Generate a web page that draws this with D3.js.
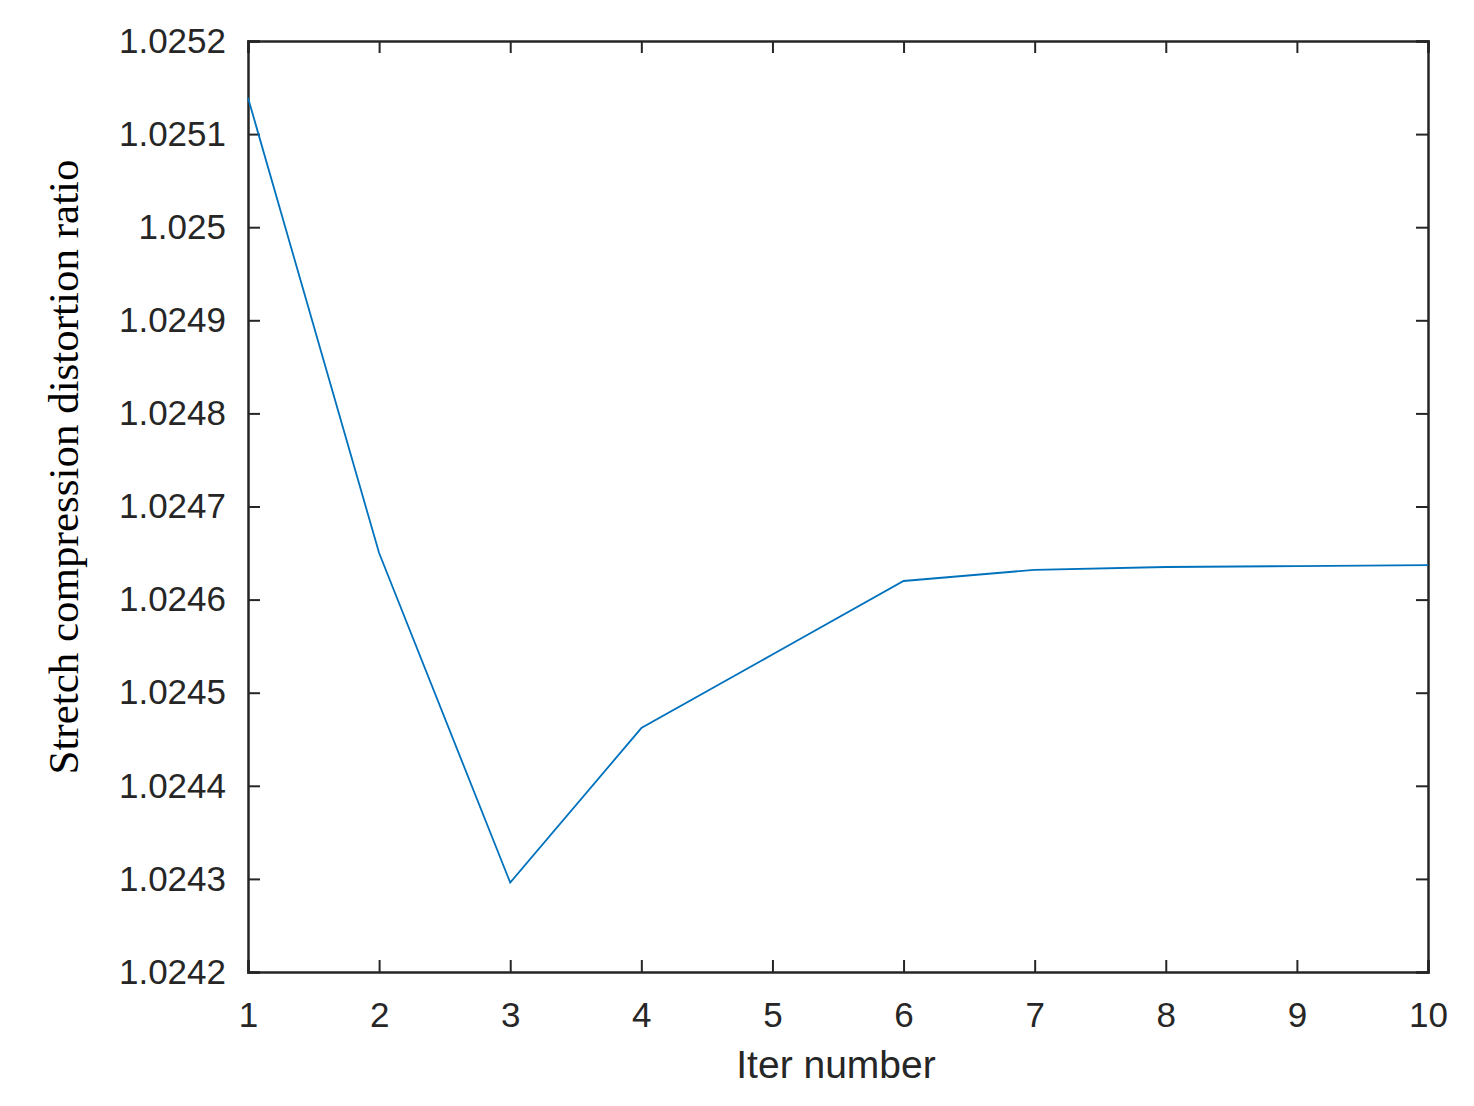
<!DOCTYPE html>
<html>
<head>
<meta charset="utf-8">
<script src="https://cdn.jsdelivr.net/npm/d3@7"></script>
<style>
  body { margin: 0; background: #fff; }
  .tick text { font-family: 'Liberation Sans', Arial, sans-serif; }
</style>
</head>
<body>
<svg id="chart"></svg>
<script>
// Data
var iterations = [1, 2, 3, 4, 5, 6, 7, 8, 9, 10];
var ratios = [1.025139, 1.02465, 1.024296, 1.024462, 1.024541, 1.02462, 1.024632, 1.024635, 1.024636, 1.024637];
var yTicks = [1.0242, 1.0243, 1.0244, 1.0245, 1.0246, 1.0247, 1.0248, 1.0249, 1.025, 1.0251, 1.0252];

var canvasWidth = 1474;
var canvasHeight = 1106;

var margin = {
  top: 41,
  right: 46,
  bottom: 134,
  left: 248
};

var plotWidth = canvasWidth - margin.left - margin.right;
var plotHeight = canvasHeight - margin.top - margin.bottom;

var svg = d3.select('#chart')
  .attr('width', canvasWidth)
  .attr('height', canvasHeight);

var g = svg.append('g')
  .attr('transform', 'translate(' + margin.left + ',' + margin.top + ')');

var xScale = d3.scaleLinear()
  .domain([1, 10])
  .range([0, plotWidth]);

var yScale = d3.scaleLinear()
  .domain([1.0242, 1.0252])
  .range([plotHeight, 0]);

var tickLen = 12;

// Bottom axis
var bottomAxis = d3.axisBottom(xScale)
  .tickValues(iterations)
  .tickSize(-tickLen)
  .tickPadding(30)
  .tickFormat(d3.format('d'));

var xAxisG = g.append('g')
  .attr('class', 'x-axis')
  .attr('transform', 'translate(0,' + plotHeight + ')')
  .call(bottomAxis);

// Left axis
var leftAxis = d3.axisLeft(yScale)
  .tickValues(yTicks)
  .tickSize(-tickLen)
  .tickPadding(22)
  .tickFormat(function(d) { return String(+d.toFixed(4)); });

var yAxisG = g.append('g')
  .attr('class', 'y-axis')
  .call(leftAxis);

// Top and right mirrored ticks
var topAxisG = g.append('g')
  .call(d3.axisTop(xScale).tickValues(iterations).tickSize(-tickLen).tickFormat(''));

var rightAxisG = g.append('g')
  .attr('transform', 'translate(' + plotWidth + ',0)')
  .call(d3.axisRight(yScale).tickValues(yTicks).tickSize(-tickLen).tickFormat(''));

[xAxisG, yAxisG, topAxisG, rightAxisG].forEach(function(a) {
  a.select('.domain').attr('stroke', '#262626').attr('stroke-width', 2.5);
  a.selectAll('.tick line').attr('stroke', '#262626').attr('stroke-width', 2);
});

xAxisG.selectAll('.tick text')
  .attr('font-size', 35)
  .attr('fill', '#262626');

yAxisG.selectAll('.tick text')
  .attr('font-size', 35)
  .attr('fill', '#262626');

// Line
var line = d3.line()
  .x(function(d, i) { return xScale(iterations[i]); })
  .y(function(d) { return yScale(d); });

g.append('path')
  .datum(ratios)
  .attr('class', 'line')
  .attr('d', line)
  .attr('fill', 'none')
  .attr('stroke', '#0072BD')
  .attr('stroke-width', 1.8);

// Labels
svg.append('text')
  .attr('x', 836)
  .attr('y', 1078)
  .attr('text-anchor', 'middle')
  .attr('font-family', "'Liberation Sans', Arial, sans-serif")
  .attr('font-size', 39)
  .attr('fill', '#262626')
  .text('Iter number');

svg.append('text')
  .attr('transform', 'translate(78,' + 467 + ') rotate(-90)')
  .attr('text-anchor', 'middle')
  .attr('font-family', "'Liberation Serif', 'Times New Roman', serif")
  .attr('font-size', 43)
  .attr('fill', '#000')
  .text('Stretch compression distortion ratio');
</script>
</body>
</html>
